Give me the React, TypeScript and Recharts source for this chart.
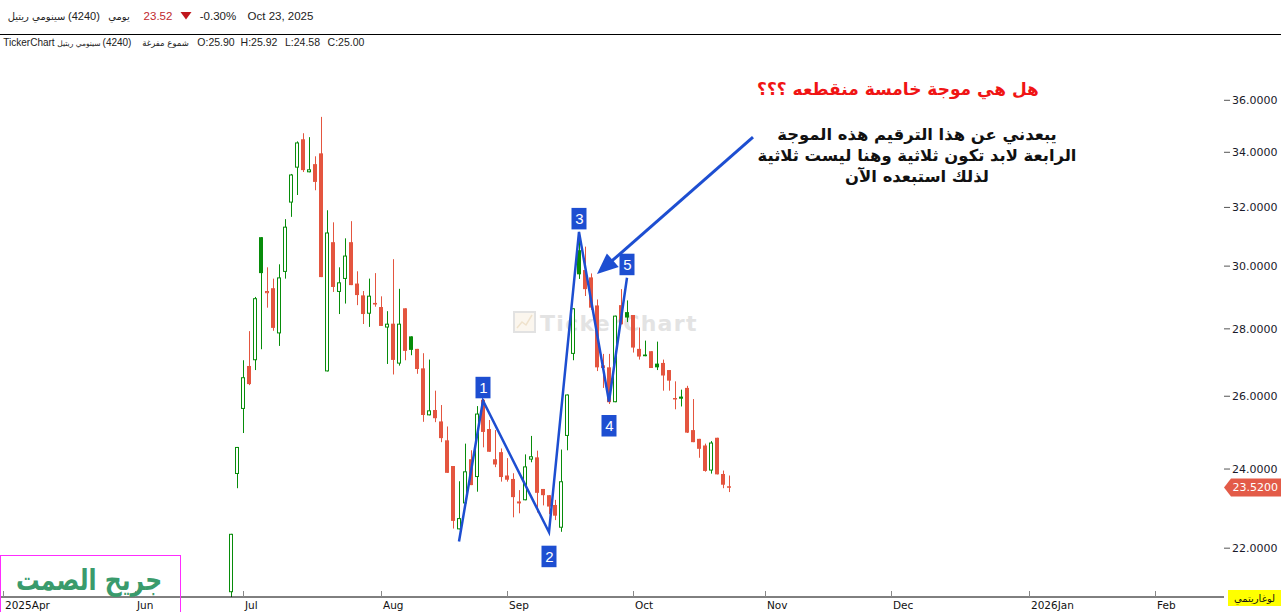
import React from 'react';
import { ComposedChart, Bar, Line, XAxis, YAxis, ReferenceLine } from 'recharts';

// ---- data (daily candles, 4240 Cenomi Retail, Jun 29 - Oct 23 2025) ----
const FIRST_SLOT = 38; // slot of first candle on the time axis
const TOTAL_SLOTS = 204;

const opens = [
  20.96, 23.87, 25.64, 26.88, 27.05, 30.97, 29.12, 29.28, 27.86, 29.81,
  32.17, 33.43, 34.49, 33.26, 33.56, 33.96, 26.72, 30.80, 29.16, 29.58,
  30.80, 29.43, 29.05, 28.47, 28.81, 28.68, 28.04, 28.16, 26.95, 28.64,
  27.77, 27.39, 26.81, 25.46, 25.61, 25.29, 24.77, 24.08, 22.46, 23.11,
  24.26, 23.79, 25.90, 25.08, 24.26, 24.45, 23.83, 23.74, 23.11, 23.19,
  24.25, 24.31, 23.48, 23.32, 23.07, 22.50, 24.89, 27.24, 30.53, 29.87,
  29.63, 28.73, 26.90, 26.84, 25.83, 28.74, 28.52, 28.43, 27.39, 27.22,
  27.32, 26.95, 26.97, 26.76, 25.95, 25.99, 26.24, 25.05, 24.81, 24.63,
  23.96, 24.84, 23.87, 23.55,
];
const highs = [
  22.35, 24.59, 27.05, 27.93, 29.00, 30.97, 29.96, 29.59, 30.06, 31.59,
  33.20, 34.41, 34.72, 34.57, 33.85, 35.35, 31.90, 31.48, 29.96, 30.93,
  31.52, 29.83, 29.19, 29.59, 29.77, 29.02, 28.55, 30.23, 29.26, 28.64,
  27.77, 27.39, 27.26, 27.07, 26.16, 25.75, 25.15, 24.08, 23.68, 24.68,
  24.50, 25.72, 25.92, 25.33, 25.05, 24.55, 24.29, 23.89, 23.45, 24.39,
  24.89, 24.49, 23.48, 23.32, 23.20, 24.52, 26.05, 28.64, 31.15, 30.65,
  29.76, 28.92, 27.24, 27.24, 28.41, 29.25, 28.89, 28.43, 28.04, 27.64,
  27.32, 27.61, 27.07, 26.76, 26.43, 26.19, 26.30, 25.92, 24.81, 24.68,
  24.75, 24.84, 23.96, 23.83,
];
const lows = [
  20.85, 23.50, 24.97, 26.32, 26.76, 27.38, 28.66, 27.94, 27.48, 29.59,
  31.67, 32.44, 33.27, 33.26, 32.61, 29.64, 26.72, 29.16, 28.46, 28.79,
  29.38, 28.74, 28.15, 28.06, 28.69, 28.09, 26.94, 26.63, 26.89, 27.05,
  27.20, 26.65, 25.28, 25.46, 25.27, 24.72, 23.90, 22.48, 22.46, 23.11,
  23.58, 23.41, 24.58, 24.46, 24.05, 23.67, 23.67, 22.76, 22.86, 23.19,
  24.18, 22.88, 23.06, 22.84, 22.69, 22.40, 24.50, 27.05, 29.58, 29.03,
  28.59, 26.73, 26.24, 25.78, 25.83, 28.14, 28.21, 27.28, 27.07, 27.17,
  26.82, 26.76, 26.16, 26.16, 25.63, 25.71, 24.97, 24.72, 24.30, 23.93,
  23.88, 23.86, 23.50, 23.40,
];
const closes = [
  22.35, 24.59, 26.55, 26.35, 28.96, 29.77, 29.19, 28.03, 29.63, 31.33,
  33.18, 34.37, 33.34, 33.37, 32.91, 29.64, 31.13, 29.32, 29.47, 30.35,
  29.38, 29.06, 28.46, 29.04, 28.76, 28.09, 28.16, 27.06, 28.16, 27.33,
  27.36, 26.79, 25.47, 25.60, 25.38, 24.83, 23.90, 22.67, 22.74, 23.94,
  23.58, 25.51, 25.00, 24.46, 24.12, 23.79, 23.72, 23.27, 23.16, 24.07,
  24.34, 23.38, 23.32, 23.03, 22.80, 23.68, 26.05, 28.64, 29.73, 29.25,
  28.66, 26.84, 26.82, 25.83, 28.41, 28.14, 28.35, 27.43, 27.16, 27.17,
  26.82, 26.84, 26.60, 26.45, 25.91, 25.93, 24.98, 24.72, 24.54, 23.95,
  24.71, 23.86, 23.59, 23.52,
];

// time-axis month ticks (slot index) and labels
const monthTicks = [0, 22, 40, 63, 84, 105, 127, 148, 171, 192];
const monthLabels = ['2025Apr', 'Jun', 'Jul', 'Aug', 'Sep', 'Oct', 'Nov', 'Dec', '2026Jan', 'Feb'];

// price axis
const priceTicks = [22, 24, 26, 28, 30, 32, 34, 36];
const priceDomain = [20.85, 38.68];

// Elliott wave drawing (slot, price, label)
const waveSlots = [76, 80, 91, 96, 101, 104];
const waveValues = [22.16, 25.87, 22.39, 31.15, 25.85, 29.62];
const waveLabels = ['', '1', '2', '3', '4', '5'];
const waveLabelAbove = [false, true, false, true, false, true];

// arrow drawing
const arrowFrom = { slot: 125, price: 34.57 };
const arrowTo = { slot: 99, price: 29.74 };

// header info
const headerName = 'سينومي ريتيل';
const headerCode = '(4240)';
const headerPeriod = 'يومي';
const headerLast = '23.52';
const headerChange = '-0.30%';
const headerDate = 'Oct 23, 2025';
const ohlcLabels = ['O:25.90', 'H:25.92', 'L:24.58', 'C:25.00'];

const GREEN = '#078c0a';
const RED = '#e4553f';
const BLUE = '#1d4ed1';

const rows = Array.from({ length: TOTAL_SLOTS }, (_, i) => {
  const k = i - FIRST_SLOT;
  const row: any = { i };
  if (k >= 0 && k < closes.length) {
    const o = opens[k];
    const c = closes[k];
    const prev = k > 0 ? closes[k - 1] : o;
    row.o = o;
    row.c = c;
    row.wick = [lows[k], highs[k]];
    row.body = [Math.min(o, c), Math.max(o, c)];
    row.color = c >= prev ? GREEN : RED;
    row.hollow = c > o;
  }
  const w = waveSlots.indexOf(i);
  if (w >= 0) {
    row.wave = waveValues[w];
    row.waveLabel = waveLabels[w];
    row.waveAbove = waveLabelAbove[w];
  }
  return row;
});

const WickShape = (props: any) => {
  const { x, y, width, height, payload } = props;
  if (!payload || payload.o == null || x == null) return <g />;
  const cx = Math.round(x + width / 2);
  const top = Math.min(y, y + height);
  const h = Math.max(1, Math.abs(height));
  return <rect x={cx} y={top} width={1} height={h} fill={payload.color} />;
};

const BodyShape = (props: any) => {
  const { x, y, width, height, payload } = props;
  if (!payload || payload.o == null || x == null) return <g />;
  const cx = Math.round(x + width / 2);
  const top = Math.min(y, y + height);
  const h = Math.max(1.5, Math.abs(height));
  if (payload.hollow) {
    return (
      <rect x={cx - 1.5} y={top + 0.5} width={3} height={Math.max(0.5, h - 1)} fill="#fff" stroke={payload.color} strokeWidth={1} />
    );
  }
  return <rect x={cx - 2} y={top} width={4} height={h} fill={payload.color} />;
};

const WaveDot = (props: any) => {
  const { cx, cy, payload } = props;
  if (!payload || !payload.waveLabel || cy == null) return <g key={props.key} />;
  const top = payload.waveAbove ? cy - 24 : cy + 13.5;
  return (
    <g key={props.key}>
      <rect x={cx - 7.5} y={top} width={15} height={21.5} fill={BLUE} />
      <text x={cx + 0.5} y={top + 16} textAnchor="middle" fill="#fff" fontSize={15} fontFamily="Liberation Sans, Arial, sans-serif">
        {payload.waveLabel}
      </text>
    </g>
  );
};

const ArrowShape = (props: any) => {
  const { x1, y1, x2, y2 } = props;
  if (x1 == null) return <g />;
  const dx = x2 - x1;
  const dy = y2 - y1;
  const len = Math.sqrt(dx * dx + dy * dy);
  const ux = dx / len;
  const uy = dy / len;
  const headLen = 21;
  const halfW = 9;
  const bx = x2 - ux * headLen;
  const by = y2 - uy * headLen;
  const px = -uy;
  const py = ux;
  return (
    <g>
      <line x1={x1} y1={y1} x2={bx + ux * 2} y2={by + uy * 2} stroke={BLUE} strokeWidth={3} />
      <polygon
        points={`${x2},${y2} ${bx + px * halfW},${by + py * halfW} ${bx - px * halfW},${by - py * halfW}`}
        fill={BLUE}
      />
    </g>
  );
};

const PriceTag = (props: any) => {
  const { x1, x2, y1 } = props;
  if (x2 == null) return <g />;
  const xr = Math.max(x1, x2);
  const y = y1;
  return (
    <g>
      <polygon
        points={`${xr},${y} ${xr + 7},${y - 9} ${xr + 57},${y - 9} ${xr + 57},${y + 9} ${xr + 7},${y + 9}`}
        fill="#e35b48"
      />
      <text x={xr + 8.5} y={y + 4} fill="#fff" fontSize={11} fontFamily="DejaVu Sans, sans-serif">
        {closes[closes.length - 1].toFixed(4)}
      </text>
    </g>
  );
};

const XTick = (props: any) => {
  const { x, y, payload } = props;
  const idx = monthTicks.indexOf(payload.value);
  if (idx < 0) return <g />;
  const cx = Math.round(x);
  return (
    <g>
      <rect x={cx} y={y - 6} width={1} height={6} fill="#888" />
      <text x={cx + 2} y={y + 12} fontSize={10.5} fontFamily="DejaVu Sans, sans-serif" fill="#111">
        {monthLabels[idx]}
      </text>
    </g>
  );
};

const AR = 'DejaVu Sans, sans-serif';
const LAT = 'Liberation Sans, Arial, sans-serif';

export default function App() {
  return (
    <div style={{ position: 'absolute', left: 0, top: 0, width: 1281, height: 612, background: '#fff', overflow: 'hidden' }}>
      {/* watermark behind chart */}
      <svg width={1281} height={612} style={{ position: 'absolute', left: 0, top: 0 }}>
        <rect x={514} y={312} width={21} height={20} fill="#fbf6ee" stroke="#e2e2e2" strokeWidth={2} />
        <polyline points="517,328 522,322 526,325 532,315" fill="none" stroke="#efe2cc" strokeWidth={1.5} />
        <text x={540} y={331} fontSize={22} fontWeight="bold" fontFamily="DejaVu Sans, sans-serif" fill="#e3e3e3" letterSpacing={1.3}>
          TickerChart
        </text>
      </svg>
      <div style={{ position: 'absolute', left: 0, top: 0 }}>
        <ComposedChart width={1281} height={612} data={rows} margin={{ top: 35, right: 0, bottom: 0, left: 0 }}>
          <XAxis
            xAxisId="a"
            dataKey="i"
            type="category"
            ticks={monthTicks}
            interval={0}
            height={15}
            tickSize={0}
            tickMargin={0}
            tickLine={false}
            tick={<XTick />}
            axisLine={{ stroke: '#000', strokeWidth: 1 }}
          />
          <XAxis xAxisId="b" dataKey="i" type="category" hide />
          <YAxis
            orientation="right"
            type="number"
            scale="log"
            domain={priceDomain}
            allowDataOverflow
            ticks={priceTicks}
            interval={0}
            width={57}
            axisLine={false}
            tickSize={6}
            tickMargin={2}
            tickLine={{ stroke: '#555' }}
            tickFormatter={(v: number) => v.toFixed(4)}
            tick={{ fontSize: 11, fontFamily: 'DejaVu Sans, sans-serif', fill: '#1a1a2a' }}
          />
          <Bar xAxisId="a" dataKey="wick" barSize={4} shape={<WickShape />} isAnimationActive={false} />
          <Bar xAxisId="b" dataKey="body" barSize={4} shape={<BodyShape />} isAnimationActive={false} />
          <Line
            xAxisId="a"
            dataKey="wave"
            connectNulls
            stroke={BLUE}
            strokeWidth={2.5}
            dot={(p: any) => <WaveDot {...p} />}
            activeDot={false}
            isAnimationActive={false}
          />
          <ReferenceLine
            xAxisId="a"
            segment={[
              { x: arrowFrom.slot, y: arrowFrom.price },
              { x: arrowTo.slot, y: arrowTo.price },
            ]}
            ifOverflow="visible"
            shape={(p: any) => <ArrowShape {...p} />}
          />
          <ReferenceLine
            xAxisId="a"
            y={closes[closes.length - 1]}
            ifOverflow="visible"
            shape={(p: any) => <PriceTag {...p} />}
          />
        </ComposedChart>
      </div>
      {/* overlay texts */}
      <svg width={1281} height={612} style={{ position: 'absolute', left: 0, top: 0, pointerEvents: 'none' }}>
        {/* header */}
        <text x={36.5} y={20} textAnchor="middle" fontSize={10} fontFamily={AR} fill="#222">{headerName}</text>
        <text x={84} y={20} textAnchor="middle" fontSize={11} fontFamily={LAT} fill="#222">{headerCode}</text>
        <text x={119} y={20} textAnchor="middle" fontSize={10} fontFamily={AR} fill="#222">{headerPeriod}</text>
        <text x={158} y={20} textAnchor="middle" fontSize={11.5} fontFamily={LAT} fill="#c0282d">{headerLast}</text>
        <polygon points="180.5,12 191.5,12 186,19.5" fill="#c0171d" />
        <text x={218} y={20} textAnchor="middle" fontSize={11.5} fontFamily={LAT} fill="#222">{headerChange}</text>
        <text x={280.5} y={20} textAnchor="middle" fontSize={11.5} fontFamily={LAT} fill="#222">{headerDate}</text>
        <rect x={0} y={34} width={1281} height={1} fill="#000" />
        <text x={29} y={46} textAnchor="middle" fontSize={10} fontFamily={LAT} fill="#222">TickerChart</text>
        <text x={79} y={46} textAnchor="middle" fontSize={7.5} fontFamily={AR} fill="#222">{headerName}</text>
        <text x={117} y={46} textAnchor="middle" fontSize={10} fontFamily={LAT} fill="#222">{headerCode}</text>
        <text x={165.5} y={46} textAnchor="middle" fontSize={8.5} fontFamily={AR} fill="#222">شموع مفرغة</text>
        <text x={216} y={46} textAnchor="middle" fontSize={10.5} fontFamily={LAT} fill="#222">{ohlcLabels[0]}</text>
        <text x={259} y={46} textAnchor="middle" fontSize={10.5} fontFamily={LAT} fill="#222">{ohlcLabels[1]}</text>
        <text x={302.5} y={46} textAnchor="middle" fontSize={10.5} fontFamily={LAT} fill="#222">{ohlcLabels[2]}</text>
        <text x={346} y={46} textAnchor="middle" fontSize={10.5} fontFamily={LAT} fill="#222">{ohlcLabels[3]}</text>

        {/* annotations */}
        <text x={898} y={95} textAnchor="middle" fontSize={17} fontWeight="bold" fontFamily={AR} fill="#f01414">هل هي موجة خامسة منقطعه ؟؟؟</text>
        <text x={917} y={140} textAnchor="middle" fontSize={16.4} fontWeight="bold" fontFamily={AR} fill="#111">يبعدني عن هذا الترقيم هذه الموجة</text>
        <text x={917} y={161} textAnchor="middle" fontSize={16.4} fontWeight="bold" fontFamily={AR} fill="#111">الرابعة لابد تكون ثلاثية وهنا ليست ثلاثية</text>
        <text x={917} y={182} textAnchor="middle" fontSize={16.4} fontWeight="bold" fontFamily={AR} fill="#111">لذلك استبعده الآن</text>

        {/* signature box */}
        <rect x={0.5} y={555.5} width={180} height={60} fill="none" stroke="#ff2cff" strokeWidth={1} />
        <g transform="translate(89,590) scale(1,1.25)">
          <text x={0} y={0} textAnchor="middle" fontSize={23.5} fontWeight="bold" fontFamily={AR} fill="#3a9b6c">جريح الصمت</text>
        </g>

        {/* log scale badge */}
        <rect x={1228} y={590} width={53} height={16} fill="#ffff00" />
        <text x={1254.5} y={602} textAnchor="middle" fontSize={10} fontFamily={AR} fill="#111">لوغاريتمي</text>
      </svg>
    </div>
  );
}
